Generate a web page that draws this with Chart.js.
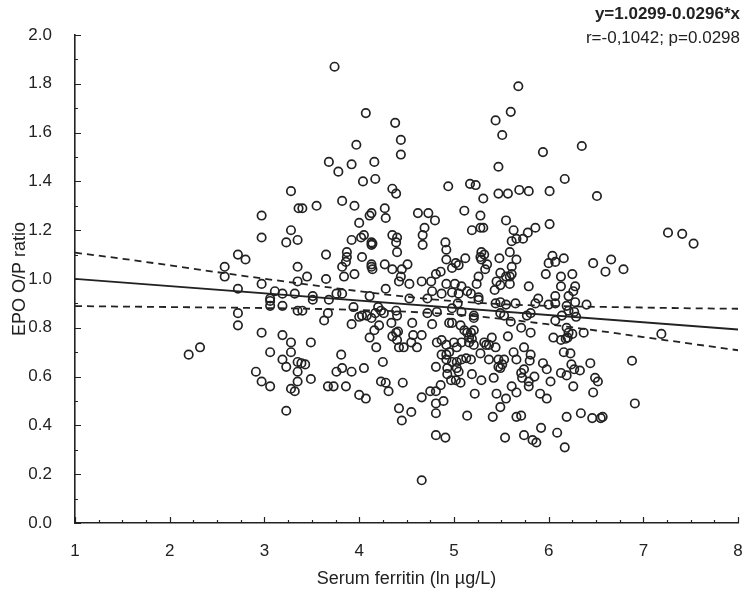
<!DOCTYPE html>
<html>
<head>
<meta charset="utf-8">
<script src="https://cdn.jsdelivr.net/npm/chart.js@4.4.1/dist/chart.umd.min.js"></script>
<style>
  html, body { margin: 0; padding: 0; background: #fff; }
  #wrap { width: 744px; height: 590px; }
</style>
</head>
<body>
<div id="wrap"><canvas id="myChart" width="744" height="590"></canvas></div>
<script>
// serum ferritin (ln ug/L) and EPO O/P ratio
const ferritin = [
  2.20,2.32,2.72,2.72,2.97,3.19,3.28,3.06,3.28,3.19,
  3.23,3.35,3.35,2.91,2.97,3.06,3.28,3.32,3.35,3.23,
  3.06,3.06,3.19,3.35,2.72,2.80,2.58,2.58,2.72,2.97,
  2.97,3.28,3.28,3.23,3.35,3.36,3.35,3.35,2.97,3.11,
  3.19,3.32,3.06,
  3.68,3.78,3.92,4.16,4.44,4.04,4.17,4.35,4.39,4.94,
  3.40,3.55,3.82,3.95,4.13,4.11,4.27,4.28,4.00,4.62,
  4.73,4.80,4.69,4.67,4.67,4.91,3.92,4.02,4.05,4.13,
  4.13,4.14,4.35,4.40,4.39,3.65,3.87,3.87,3.86,3.82,
  4.03,4.13,4.13,4.14,4.27,4.40,4.51,4.35,4.45,4.44,
  4.42,4.53,3.45,3.65,3.84,3.95,4.28,4.66,4.76,4.81,
  4.86,4.92,4.92,4.92,4.77,4.87,3.76,3.82,4.11,3.51,
  4.53,4.72,
  3.74,4.07,4.38,4.44,3.97,5.68,5.60,5.44,5.51,5.94,6.35,
  5.47,6.17,5.17,5.23,5.47,5.57,5.69,5.79,6.01,6.51,
  5.31,5.11,5.28,5.19,5.28,5.31,5.55,5.63,5.78,5.86,
  6.01,5.61,5.66,5.73,5.12,5.02,5.05,5.29,5.28,5.32,
  5.29,5.35,5.33,5.48,5.59,5.66,5.61,6.04,6.16,6.00,
  6.07,5.97,6.13,6.25,6.47,4.98,5.01,5.26,5.24,5.49,
  5.55,5.59,5.61,5.45,5.49,5.59,5.79,6.13,6.28,6.26,
  5.08,5.14,5.18,5.05,4.98,5.26,5.43,6.07,5.89,6.21,
  7.26,7.41,7.53,6.66,6.60,6.79,7.19,6.88,6.91,6.57,6.55,
  3.40,3.51,3.68,3.67,3.63,3.92,3.94,4.00,4.03,4.08,
  4.13,4.17,4.20,4.23,4.26,4.21,4.16,4.11,4.18,4.34,
  4.39,4.40,4.35,4.39,4.41,4.40,4.42,4.47,4.56,4.55,
  4.61,4.57,4.66,4.77,4.72,4.82,4.82,4.87,4.92,4.87,
  4.92,4.92,4.81,4.93,4.93,3.49,3.81,3.39,3.43,3.49,
  3.76,3.82,3.92,4.05,4.25,4.23,4.28,4.31,4.46,3.67,
  3.73,3.86,4.00,4.07,4.42,4.45,4.55,4.66,4.75,4.81,
  4.86,4.81,4.81,4.89,4.81,4.91,4.66,
  5.04,5.26,5.44,5.49,5.55,5.65,5.86,6.00,6.07,6.19,
  6.28,6.40,4.98,5.08,5.21,5.21,5.49,5.53,5.60,5.71,
  5.81,5.77,5.81,6.07,6.05,6.14,6.21,6.27,6.29,6.19,
  6.21,6.25,6.18,6.20,6.13,6.37,4.95,4.98,5.11,5.14,
  5.18,5.21,5.16,5.19,5.08,5.16,5.21,5.07,5.32,5.34,
  5.37,5.40,5.57,5.44,5.37,5.47,5.53,5.28,5.63,5.74,
  5.81,5.66,5.80,5.47,5.49,5.51,5.00,5.03,4.95,4.98,
  5.03,5.08,5.13,5.18,5.03,5.05,4.97,5.02,5.07,5.19,
  5.29,5.42,5.22,5.45,5.55,5.49,5.71,5.74,5.79,5.72,
  5.85,5.61,5.66,5.79,5.91,5.98,6.02,5.94,5.98,6.13,
  6.19,6.24,6.27,6.33,6.16,6.23,6.44,6.49,6.52,6.26,
  6.47,5.14,5.41,5.66,5.71,6.19,6.34,6.46,5.92,6.09,
  5.54,5.74,5.83,5.87,6.17
];
const epoRatio = [
  0.69,0.72,0.86,0.81,0.78,0.77,0.74,0.70,0.70,0.67,
  0.64,0.66,0.62,0.62,0.58,0.56,0.55,0.54,0.58,0.46,
  0.91,0.89,0.89,0.87,1.10,1.08,1.05,1.01,0.96,1.26,
  1.17,1.36,1.20,1.15,1.16,1.29,1.05,0.99,0.98,0.95,
  0.94,0.94,0.92,
  1.48,1.44,1.47,1.48,1.51,1.40,1.41,1.37,1.35,1.38,
  1.29,1.30,1.32,1.30,1.27,1.26,1.29,1.25,1.23,1.27,
  1.27,1.24,1.21,1.18,1.14,1.15,1.16,1.17,1.18,1.15,
  1.14,1.145,1.18,1.17,1.15,1.10,1.11,1.09,1.07,1.05,
  1.09,1.06,1.05,1.04,1.06,1.11,1.06,1.04,1.04,1.01,
  0.99,0.98,1.01,1.00,1.01,1.02,0.96,0.99,0.99,1.02,
  1.03,1.08,1.12,0.98,0.95,0.94,0.94,0.94,0.93,0.93,
  0.92,0.92,
  1.87,1.68,1.64,1.57,1.55,1.79,1.685,1.65,1.59,1.52,1.545,
  1.46,1.41,1.39,1.385,1.35,1.35,1.365,1.36,1.36,1.34,
  1.33,1.28,1.26,1.20,1.21,1.21,1.24,1.20,1.19,1.21,
  1.225,1.155,1.165,1.165,1.085,1.065,1.057,1.11,1.09,1.10,
  1.08,1.06,1.04,1.085,1.11,1.08,1.05,1.095,1.085,1.065,
  1.07,1.02,1.01,1.02,1.065,1.045,0.98,1.01,0.98,1.025,
  1.01,1.01,1.02,0.99,0.975,0.98,0.97,0.97,0.97,0.95,
  0.97,0.95,0.94,0.94,0.945,0.925,0.955,0.93,0.92,0.93,
  1.19,1.185,1.145,1.08,1.03,1.04,0.775,0.665,0.49,0.435,0.43,
  0.87,0.915,0.915,0.86,0.83,0.815,0.885,0.845,0.85,0.85,
  0.84,0.86,0.885,0.87,0.86,0.81,0.79,0.76,0.72,0.82,
  0.87,0.85,0.765,0.78,0.785,0.75,0.72,0.72,0.82,0.74,
  0.72,0.77,0.77,0.815,0.86,0.865,0.74,0.75,0.73,0.69,
  0.69,0.67,0.64,0.635,0.61,0.74,0.69,0.655,0.65,0.59,
  0.62,0.635,0.62,0.635,0.66,0.58,0.575,0.54,0.575,0.56,
  0.56,0.56,0.525,0.51,0.47,0.42,0.455,0.515,0.54,0.54,
  0.565,0.49,0.45,0.50,0.36,0.35,0.175,
  0.90,0.915,0.90,0.905,0.895,0.90,0.90,0.895,0.90,0.89,
  0.905,0.895,0.88,0.865,0.85,0.84,0.86,0.85,0.825,0.80,
  0.78,0.85,0.86,0.83,0.76,0.85,0.87,0.865,0.845,0.80,
  0.78,0.775,0.755,0.76,0.75,0.78,0.82,0.82,0.79,0.78,
  0.78,0.79,0.76,0.755,0.74,0.74,0.73,0.81,0.74,0.73,
  0.73,0.76,0.765,0.72,0.67,0.67,0.67,0.695,0.70,0.72,
  0.69,0.67,0.665,0.64,0.635,0.65,0.74,0.72,0.70,0.66,
  0.66,0.67,0.675,0.67,0.635,0.62,0.585,0.585,0.575,0.61,
  0.585,0.595,0.53,0.53,0.51,0.475,0.615,0.63,0.58,0.595,
  0.60,0.56,0.535,0.56,0.53,0.51,0.58,0.655,0.63,0.615,
  0.605,0.65,0.63,0.625,0.70,0.695,0.655,0.595,0.58,0.56,
  0.535,0.44,0.435,0.435,0.44,0.435,0.45,0.43,0.39,0.37,
  0.35,0.36,0.34,0.33,0.31
];

// regression line and its confidence band
const fitX = [1, 8];
const fitY = [1.0003, 0.7931];
const bandX = [1, 1.5, 2, 2.5, 3, 3.5, 4, 4.5, 5, 5.5, 6, 6.5, 7, 7.5, 8];
const bandUpper = [1.108, 1.083, 1.056, 1.028, 1.001, 0.975, 0.950, 0.927, 0.909, 0.897, 0.890, 0.886, 0.883, 0.880, 0.878];
const bandLower = [0.889, 0.887, 0.885, 0.883, 0.881, 0.878, 0.873, 0.866, 0.855, 0.837, 0.814, 0.789, 0.762, 0.735, 0.708];

const xTicks = [1, 2, 3, 4, 5, 6, 7, 8];
const yTicks = [0, 0.2, 0.4, 0.6, 0.8, 1.0, 1.2, 1.4, 1.6, 1.8, 2.0];
const equationText = 'y=1.0299-0.0296*x';
const statsText = 'r=-0,1042; p=0.0298';

if (ferritin.length !== epoRatio.length) console.error('length mismatch', ferritin.length, epoRatio.length);

const FONT = '"Liberation Sans Narrow", "Liberation Sans", Arial, sans-serif';
const INK = '#222';
Chart.defaults.font.family = FONT;
Chart.defaults.color = INK;

const axisTicks = {
  id: 'axisTicks',
  afterDraw(chart) {
    const { ctx, chartArea, scales: { x, y } } = chart;
    ctx.save();
    ctx.strokeStyle = INK;
    ctx.lineWidth = 1.2;
    ctx.beginPath();
    for (let i = 0; i <= 28; i++) {
      const v = 1 + i * 0.25;
      const px = Math.round(x.getPixelForValue(v)) + 0.5;
      const len = i % 4 === 0 ? 6 : 3;
      ctx.moveTo(px, chartArea.bottom);
      ctx.lineTo(px, chartArea.bottom - len);
    }
    for (let i = 0; i <= 20; i++) {
      const py = Math.round(y.getPixelForValue(i / 10)) + 0.5;
      const len = i % 2 === 0 ? 6 : 3;
      ctx.moveTo(chartArea.left, py);
      ctx.lineTo(chartArea.left + len, py);
    }
    ctx.stroke();

    ctx.fillStyle = INK;
    ctx.textAlign = 'right';
    ctx.textBaseline = 'middle';
    ctx.font = 'bold 17px ' + FONT;
    ctx.fillText(equationText, 740, 14);
    ctx.font = '17px ' + FONT;
    ctx.fillText(statsText, 740, 38);
    ctx.restore();
  }
};

const ctx = document.getElementById('myChart').getContext('2d');
new Chart(ctx, {
  type: 'scatter',
  data: {
    datasets: [
      {
        label: 'EPO O/P ratio',
        data: ferritin.map((v, i) => ({ x: v, y: epoRatio[i] })),
        pointStyle: 'circle',
        pointRadius: 4.2,
        pointBorderWidth: 1.7,
        borderColor: INK,
        backgroundColor: 'rgba(255,255,255,0)',
        order: 1
      },
      {
        label: 'fit',
        data: fitX.map((v, i) => ({ x: v, y: fitY[i] })),
        showLine: true,
        pointRadius: 0,
        borderColor: INK,
        borderWidth: 1.8,
        order: 2
      },
      {
        label: 'upper',
        data: bandX.map((v, i) => ({ x: v, y: bandUpper[i] })),
        showLine: true,
        pointRadius: 0,
        borderColor: INK,
        borderWidth: 1.8,
        borderDash: [7, 5],
        cubicInterpolationMode: 'monotone',
        order: 3
      },
      {
        label: 'lower',
        data: bandX.map((v, i) => ({ x: v, y: bandLower[i] })),
        showLine: true,
        pointRadius: 0,
        borderColor: INK,
        borderWidth: 1.8,
        borderDash: [7, 5],
        cubicInterpolationMode: 'monotone',
        order: 4
      }
    ]
  },
  options: {
    responsive: false,
    devicePixelRatio: 1,
    animation: false,
    layout: { padding: { top: 35, right: 4, left: 0, bottom: 0 } },
    plugins: {
      legend: { display: false },
      tooltip: { enabled: false }
    },
    scales: {
      x: {
        type: 'linear',
        min: 1,
        max: 8,
        afterBuildTicks: (scale) => { scale.ticks = xTicks.map(v => ({ value: v })); },
        afterFit: (scale) => {
          scale.height = 67;
          scale.paddingRight = 0;
          scale.paddingLeft = 0;
          if (scale._margins) { scale._margins.right = 0; scale._margins.left = 0; }
        },
        grid: { display: false },
        border: { display: true, color: INK, width: 1.6 },
        ticks: { padding: 10, font: { size: 17 }, color: INK },
        title: { display: true, text: 'Serum ferritin (ln µg/L)', font: { size: 18 }, color: INK, padding: { top: 0, bottom: 0 } }
      },
      y: {
        type: 'linear',
        min: 0,
        max: 2,
        afterBuildTicks: (scale) => { scale.ticks = yTicks.map(v => ({ value: v })); },
        afterFit: (scale) => { scale.width = 75; },
        grid: { display: false },
        border: { display: true, color: INK, width: 1.6 },
        ticks: { padding: 15, font: { size: 17 }, color: INK, callback: (v) => Number(v).toFixed(1) },
        title: { display: true, text: 'EPO O/P ratio', font: { size: 18 }, color: INK, padding: { top: 9, bottom: 0 } }
      }
    }
  },
  plugins: [axisTicks]
});
</script>
</body>
</html>
